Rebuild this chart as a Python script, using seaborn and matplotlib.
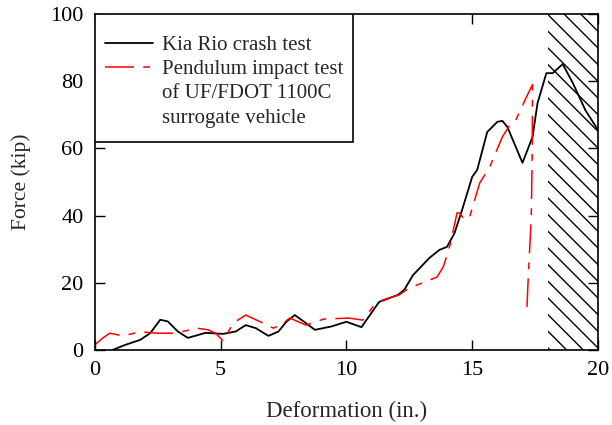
import matplotlib
matplotlib.use("Agg")
import matplotlib.pyplot as plt
from matplotlib.lines import Line2D
from matplotlib.patches import Rectangle
import seaborn as sns
import pandas as pd

# Kia Rio full-scale crash test: force vs. deformation
kia_deform = [0.7, 1.2, 1.8, 2.2, 2.6, 2.9, 3.3, 3.7, 4.4, 5.1, 5.6, 6.0, 6.4, 6.9,
              7.3, 7.6, 7.95, 8.3, 8.75, 9.4, 10.0, 10.6, 11.3, 12.05, 12.3, 12.65,
              13.3, 13.7, 14.0, 14.3, 14.6, 15.0, 15.2, 15.6, 16.0, 16.2, 16.4, 17.0,
              17.4, 17.6, 17.95, 18.2, 18.6, 19.0, 19.5, 20.0]
kia_force = [0.0, 1.5, 3.0, 5.0, 9.0, 8.5, 5.5, 3.6, 5.1, 4.8, 5.5, 7.4, 6.5, 4.2,
             5.5, 8.3, 10.4, 8.5, 6.0, 7.0, 8.4, 6.8, 14.3, 16.4, 17.9, 22.3,
             27.4, 29.8, 30.7, 34.8, 41.7, 51.5, 53.6, 64.9, 67.9, 68.2, 66.4, 55.7,
             63.4, 73.5, 82.4, 82.4, 85.1, 79.5, 71.4, 65.5]

# Pendulum impact test of the UF/FDOT 1100C surrogate vehicle
pend_deform = [0.0, 0.3, 0.6, 1.1, 1.8, 2.5, 3.1, 3.5, 4.05, 4.5, 4.8, 5.1, 5.5, 6.0,
               6.4, 6.7, 7.1, 7.4, 7.75, 8.4, 9.1, 10.1, 10.65, 11.05, 11.45, 12.1,
               12.5, 12.8, 13.6, 13.85, 14.1, 14.4, 14.5, 14.7, 14.9, 15.3, 15.7,
               16.2, 16.5, 16.7, 17.1, 17.4, 17.39, 17.35, 17.22, 17.18]
pend_force = [1.5, 3.5, 5.0, 4.2, 5.4, 5.0, 5.0, 5.5, 6.5, 6.0, 5.0, 2.7, 8.0, 10.4,
              9.0, 8.0, 6.5, 7.5, 9.5, 7.4, 9.2, 9.5, 8.9, 12.8, 14.9, 16.4,
              18.5, 19.3, 21.7, 24.7, 30.7, 40.8, 40.8, 38.7, 39.6, 49.7, 54.5,
              63.4, 67.0, 67.9, 74.4, 79.0, 59.5, 39.6, 20.0, 12.8]

x_ticks = [0, 5, 10, 15, 20]
y_ticks = [0, 20, 40, 60, 80, 100]
shaded_range = [18, 20]

kia_label = "Kia Rio crash test"
pend_label_lines = ["Pendulum impact test", "of UF/FDOT 1100C", "surrogate vehicle"]

sns.set_theme(style="ticks")
plt.rcParams["font.family"] = ["Liberation Serif", "DejaVu Serif"]
plt.rcParams["hatch.linewidth"] = 1.0
plt.rcParams["hatch.color"] = "black"

kia = pd.DataFrame({"x": kia_deform, "y": kia_force})
pend = pd.DataFrame({"x": pend_deform, "y": pend_force})

fig = plt.figure(figsize=(6.12, 4.25), dpi=100)
ax = fig.add_axes([0.155, 0.1765, 0.822, 0.7905])

# hatched zone at the end of the deformation range
ax.axvspan(shaded_range[0], shaded_range[1], facecolor="none", edgecolor="black",
           hatch="\\\\", linewidth=0, zorder=0)

sns.lineplot(data=kia, x="x", y="y", ax=ax, sort=False, estimator=None,
             color="black", linewidth=1.3)
sns.lineplot(data=pend, x="x", y="y", ax=ax, sort=False, estimator=None,
             color="#ff0000", linewidth=1.1)
dash = [19, 6, 4.5, 6]
ax.lines[1].set_dashes(dash)

ax.set_xlim(0, 20)
ax.set_ylim(0, 100)
ax.set_xticks(x_ticks)
ax.set_yticks(y_ticks)
ax.tick_params(direction="in", length=7, width=1, top=True, right=True,
               labelsize=16, colors="black", pad=8)
for s in ax.spines.values():
    s.set_visible(True)
    s.set_linewidth(1.2)
    s.set_color("black")

ax.set_xlabel("Deformation (in.)", fontsize=16.5, labelpad=15)
ax.set_ylabel("Force (kip)", fontsize=15.5, labelpad=14)

# legend box drawn as a patch so its padding can be set independently
box = Rectangle((0.0, 0.619), 0.513, 0.381, transform=ax.transAxes,
                facecolor="white", edgecolor="black", linewidth=1.2, zorder=3)
ax.add_patch(box)

blank = Line2D([], [], linestyle="none")
handles = [
    Line2D([], [], color="black", linewidth=1.3),
    Line2D([], [], color="#ff0000", linewidth=1.1, dashes=dash),
    blank, blank,
]
labels = [kia_label] + pend_label_lines
leg = ax.legend(handles, labels, loc="upper left", bbox_to_anchor=(0.02, 0.936),
                fontsize=15, frameon=False, borderaxespad=0, borderpad=0,
                handlelength=2.3, handletextpad=0.45, labelspacing=0.22)
leg.set_zorder(4)

fig.savefig("out.png", dpi=100)
